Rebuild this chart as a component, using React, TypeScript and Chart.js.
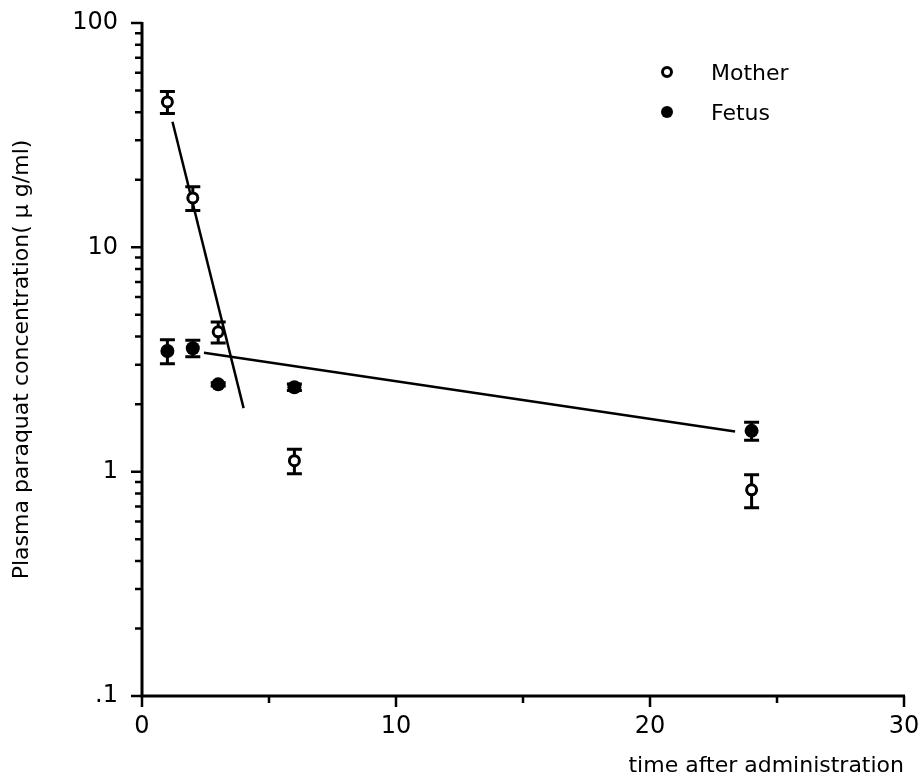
import React, { useEffect, useRef } from "react";
import { Chart, registerables } from "chart.js";

Chart.register(...registerables);

const timePoints = [1, 2, 3, 6, 24];
const motherValues = [44.5, 16.6, 4.2, 1.12, 0.83];
const motherErrors = [5, 2, 0.45, 0.14, 0.14];
const fetusValues = [3.45, 3.55, 2.45, 2.38, 1.52];
const fetusErrors = [0.42, 0.3, 0.04, 0.08, 0.14];
const motherFitX = [1.2, 4.0];
const motherFitY = [36.3, 1.92];
const fetusFitX = [2.44, 23.35];
const fetusFitY = [3.39, 1.51];
const yMajorTicks = [0.1, 1, 10, 100];
const yTickLabels = [".1", "1", "10", "100"];
const xMajorTicks = [0, 10, 20, 30];
const xMinorTicks = [5, 15, 25];
const legendLabels = ["Mother", "Fetus"];

const FONT = "'DejaVu Sans', Verdana, sans-serif";

function yMinorTicks(): number[] {
  const out: number[] = [];
  for (let d = 0.1; d < 100; d *= 10) {
    for (let k = 2; k <= 9; k++) out.push(+(d * k).toPrecision(3));
  }
  return out;
}

const axesPlugin = {
  id: "axesPlugin",
  afterDraw(chart: any) {
    const ctx = chart.ctx;
    const xs = chart.scales.x;
    const ys = chart.scales.y;
    const left = xs.getPixelForValue(0);
    const right = xs.getPixelForValue(30);
    const bottom = ys.getPixelForValue(0.1);
    const top = ys.getPixelForValue(100);
    ctx.save();
    ctx.strokeStyle = "#000";
    ctx.lineWidth = 3;
    ctx.lineCap = "butt";
    ctx.beginPath();
    ctx.moveTo(left, top - 1);
    ctx.lineTo(left, bottom);
    ctx.moveTo(left - 1.5, bottom);
    ctx.lineTo(right + 1, bottom);
    ctx.stroke();
    ctx.lineWidth = 2.5;
    ctx.beginPath();
    yMajorTicks.forEach((v) => {
      const p = ys.getPixelForValue(v);
      ctx.moveTo(left - 11, p);
      ctx.lineTo(left, p);
    });
    yMinorTicks().forEach((v) => {
      const p = ys.getPixelForValue(v);
      ctx.moveTo(left - 7, p);
      ctx.lineTo(left, p);
    });
    xMajorTicks.forEach((v) => {
      const p = xs.getPixelForValue(v);
      ctx.moveTo(p, bottom);
      ctx.lineTo(p, bottom + 11);
    });
    xMinorTicks.forEach((v) => {
      const p = xs.getPixelForValue(v);
      ctx.moveTo(p, bottom);
      ctx.lineTo(p, bottom + 7);
    });
    ctx.stroke();
    ctx.restore();
  },
};

function openCircle(ctx: any, x: number, y: number, r: number) {
  ctx.beginPath();
  ctx.arc(x, y, r, 0, Math.PI * 2);
  ctx.fillStyle = "#fff";
  ctx.fill();
  ctx.lineWidth = 3;
  ctx.strokeStyle = "#000";
  ctx.stroke();
}

function filledCircle(ctx: any, x: number, y: number, r: number) {
  ctx.beginPath();
  ctx.arc(x, y, r, 0, Math.PI * 2);
  ctx.fillStyle = "#000";
  ctx.fill();
}

const errorBarPlugin = {
  id: "errorBarPlugin",
  afterDatasetsDraw(chart: any) {
    const ctx = chart.ctx;
    const xs = chart.scales.x;
    const ys = chart.scales.y;
    const sets = [
      { vals: motherValues, errs: motherErrors },
      { vals: fetusValues, errs: fetusErrors },
    ];
    ctx.save();
    ctx.strokeStyle = "#000";
    ctx.lineWidth = 3;
    sets.forEach((s) => {
      timePoints.forEach((t, i) => {
        const x = xs.getPixelForValue(t);
        const yt = ys.getPixelForValue(s.vals[i] + s.errs[i]);
        const yb = ys.getPixelForValue(s.vals[i] - s.errs[i]);
        ctx.beginPath();
        ctx.moveTo(x, yt);
        ctx.lineTo(x, yb);
        ctx.moveTo(x - 7.5, yt);
        ctx.lineTo(x + 7.5, yt);
        ctx.moveTo(x - 7.5, yb);
        ctx.lineTo(x + 7.5, yb);
        ctx.stroke();
      });
    });
    timePoints.forEach((t, i) => {
      const x = xs.getPixelForValue(t);
      openCircle(ctx, x, ys.getPixelForValue(motherValues[i]), 5);
      filledCircle(ctx, x, ys.getPixelForValue(fetusValues[i]), 7);
    });
    ctx.restore();
  },
};

const legendPlugin = {
  id: "customLegend",
  afterDraw(chart: any) {
    const ctx = chart.ctx;
    ctx.save();
    ctx.font = `22px ${FONT}`;
    ctx.textBaseline = "alphabetic";
    const mx = 667;
    const rows = [80, 120];
    legendLabels.forEach((lab, i) => {
      const y = rows[i];
      if (i === 0) openCircle(ctx, mx, y - 8, 4.5);
      else filledCircle(ctx, mx, y - 8, 6);
      ctx.fillStyle = "#000";
      ctx.fillText(lab, 711, y);
    });
    ctx.restore();
  },
};

export default function App() {
  const ref = useRef<HTMLCanvasElement | null>(null);
  useEffect(() => {
    if (!ref.current) return;
    const chart = new Chart(ref.current, {
      type: "scatter",
      data: {
        datasets: [
          {
            label: "Mother fit",
            type: "line",
            data: motherFitX.map((x, i) => ({ x, y: motherFitY[i] })),
            borderColor: "#000",
            borderWidth: 2.5,
            pointRadius: 0,
            fill: false,
          },
          {
            label: "Fetus fit",
            type: "line",
            data: fetusFitX.map((x, i) => ({ x, y: fetusFitY[i] })),
            borderColor: "#000",
            borderWidth: 2.5,
            pointRadius: 0,
            fill: false,
          },
          {
            label: legendLabels[0],
            data: timePoints.map((x, i) => ({ x, y: motherValues[i] })),
            pointRadius: 0,
          },
          {
            label: legendLabels[1],
            data: timePoints.map((x, i) => ({ x, y: fetusValues[i] })),
            pointRadius: 0,
          },
        ],
      },
      options: {
        animation: false,
        responsive: false,
        maintainAspectRatio: false,
        layout: { padding: { top: 23, right: 19, left: 0, bottom: 0 } },
        plugins: {
          legend: { display: false },
          tooltip: { enabled: false },
        },
        scales: {
          x: {
            type: "linear",
            min: 0,
            max: 30,
            grid: { display: false, drawTicks: false },
            border: { display: false },
            afterBuildTicks: (s: any) => {
              s.ticks = xMajorTicks.map((v) => ({ value: v }));
            },
            afterFit: (s: any) => {
              s.height = 87;
              s.paddingLeft = 0;
              s.paddingRight = 0;
            },
            ticks: {
              color: "#000",
              font: { family: FONT, size: 24 },
              padding: 16,
              maxRotation: 0,
              autoSkip: false,
              callback: (v: any) => String(v),
            },
            title: {
              display: true,
              text: "time after administration",
              align: "end",
              color: "#000",
              font: { family: FONT, size: 22 },
              padding: { top: 0, bottom: 4 },
            },
          },
          y: {
            type: "logarithmic",
            min: 0.1,
            max: 100,
            grid: { display: false, drawTicks: false },
            border: { display: false },
            afterBuildTicks: (s: any) => {
              s.ticks = yMajorTicks.map((v) => ({ value: v }));
            },
            afterFit: (s: any) => {
              s.width = 142;
              s.paddingTop = 0;
              s.paddingBottom = 0;
            },
            ticks: {
              color: "#000",
              font: { family: FONT, size: 24 },
              padding: 24,
              autoSkip: false,
              callback: (v: any) => {
                const i = yMajorTicks.indexOf(Number(v));
                return i >= 0 ? yTickLabels[i] : "";
              },
            },
            title: {
              display: true,
              text: "Plasma paraquat concentration( \u03bc g/ml)",
              color: "#000",
              font: { family: FONT, size: 22 },
              padding: { top: 9, bottom: 0 },
            },
          },
        },
      },
      plugins: [axesPlugin, errorBarPlugin, legendPlugin],
    });
    return () => chart.destroy();
  }, []);
  return (
    <div style={{ position: "fixed", left: 0, top: 0, width: 923, height: 783, background: "#fff" }}>
      <canvas ref={ref} width={923} height={783} style={{ display: "block" }} />
    </div>
  );
}
